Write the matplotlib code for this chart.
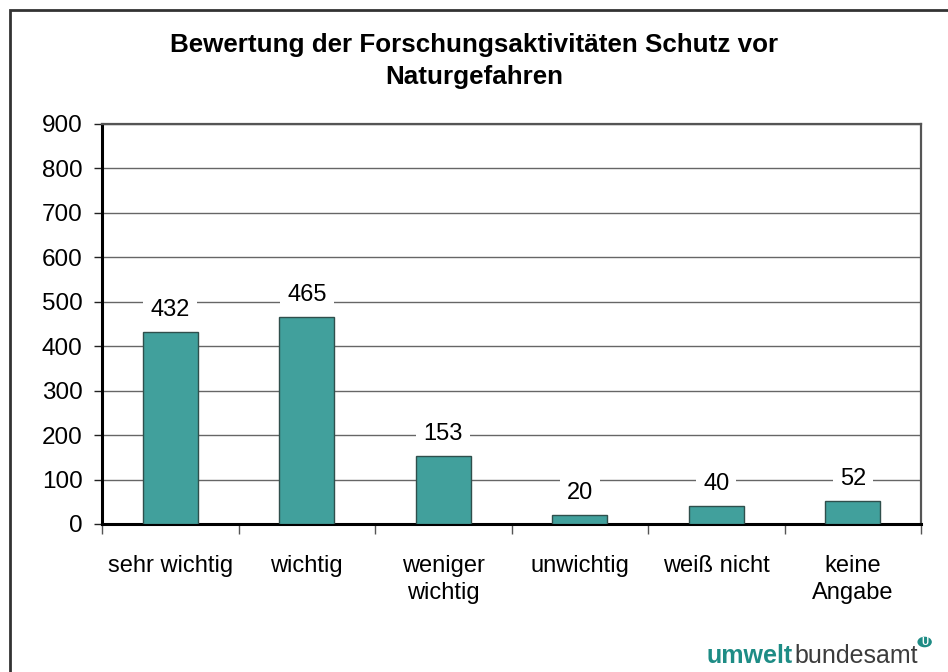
import matplotlib
matplotlib.use("Agg")
from matplotlib import pyplot as plt
from matplotlib.patches import Rectangle, Circle
import numpy as np

plt.rcParams['font.family'] = ['Liberation Sans', 'DejaVu Sans']

# Antworten der Umfrage
kategorien = ["sehr wichtig", "wichtig", "weniger\nwichtig", "unwichtig", "weiß nicht", "keine\nAngabe"]
anzahl = [432, 465, 153, 20, 40, 52]
y_ticks = [0, 100, 200, 300, 400, 500, 600, 700, 800, 900]
titel = "Bewertung der Forschungsaktivitäten Schutz vor\nNaturgefahren"

W, H = 948, 672
fig = plt.figure(figsize=(W / 100, H / 100), dpi=100)
ax = fig.add_axes([102 / W, 1 - 524 / H, (921 - 102) / W, (524 - 124) / H])

x = np.arange(len(kategorien))
bars = ax.bar(x, anzahl, width=0.4, color='#41A09C', edgecolor='#2f4f4c', linewidth=1.0, zorder=3)

# Werte ueber den Balken, weisser Hintergrund verdeckt die Gitterlinien
for b, v in zip(bars, anzahl):
    ax.annotate(str(v), xy=(b.get_x() + b.get_width() / 2, v), xytext=(0, 8),
                textcoords='offset points', ha='center', va='bottom', fontsize=17,
                bbox=dict(boxstyle='square,pad=0.3', fc='white', ec='none'), zorder=4)

ax.set_xlim(-0.5, len(kategorien) - 0.5)
ax.set_ylim(0, 900)
ax.set_yticks(y_ticks)
ax.tick_params(axis='y', labelsize=17.5, length=6, width=1, color='#222222', pad=8)

# Teilstriche zwischen den Kategorien, Beschriftung mittig
ax.set_xticks(np.arange(len(kategorien) + 1) - 0.5)
ax.set_xticklabels([])
ax.set_xticks(x, minor=True)
ax.set_xticklabels(kategorien, minor=True, fontsize=17, linespacing=1.3)
ax.tick_params(axis='x', which='major', length=7, width=1, color='#555555')
ax.tick_params(axis='x', which='minor', length=0, pad=22)

ax.yaxis.grid(True, color='#666666', linewidth=1.0, zorder=0)
ax.set_axisbelow(True)
for s in ['left', 'bottom']:
    ax.spines[s].set_linewidth(2.2)
    ax.spines[s].set_color('black')
for s in ['top', 'right']:
    ax.spines[s].set_linewidth(1.6)
    ax.spines[s].set_color('#555555')

fig.text(474 / W, 1 - 61 / H, titel, ha='center', va='center', fontsize=18.7,
         fontweight='bold', linespacing=1.45)

# Rahmen um die ganze Grafik
fig.patches.append(Rectangle((10 / W, -0.1), 1.2, 1 - 10 / H + 0.1, transform=fig.transFigure,
                             fill=False, ec='#333333', lw=2.0))

# Logo
t1 = fig.text(707 / W, 1 - 663 / H, "umwelt", fontsize=18, fontweight='bold',
              color='#1E8C85', ha='left', va='baseline')
t2 = fig.text(0, 0, "bundesamt", fontsize=18, color='#3c3c3c', ha='left', va='baseline')
fig.canvas.draw()
bb = t1.get_window_extent()
t2.set_position((bb.x1 / W + 1 / W, 1 - 663 / H))
fig.canvas.draw()
bb2 = t2.get_window_extent()
cx, cy = bb2.x1 + 7, H - 642
fig.patches.append(Circle((cx / W, cy / H), 6.5 / W, transform=fig.transFigure, color='#1E8C85'))
fig.text(cx / W, cy / H, "U", fontsize=7, fontweight='bold', color='white', ha='center', va='center')

fig.savefig("out.png", dpi=100)
